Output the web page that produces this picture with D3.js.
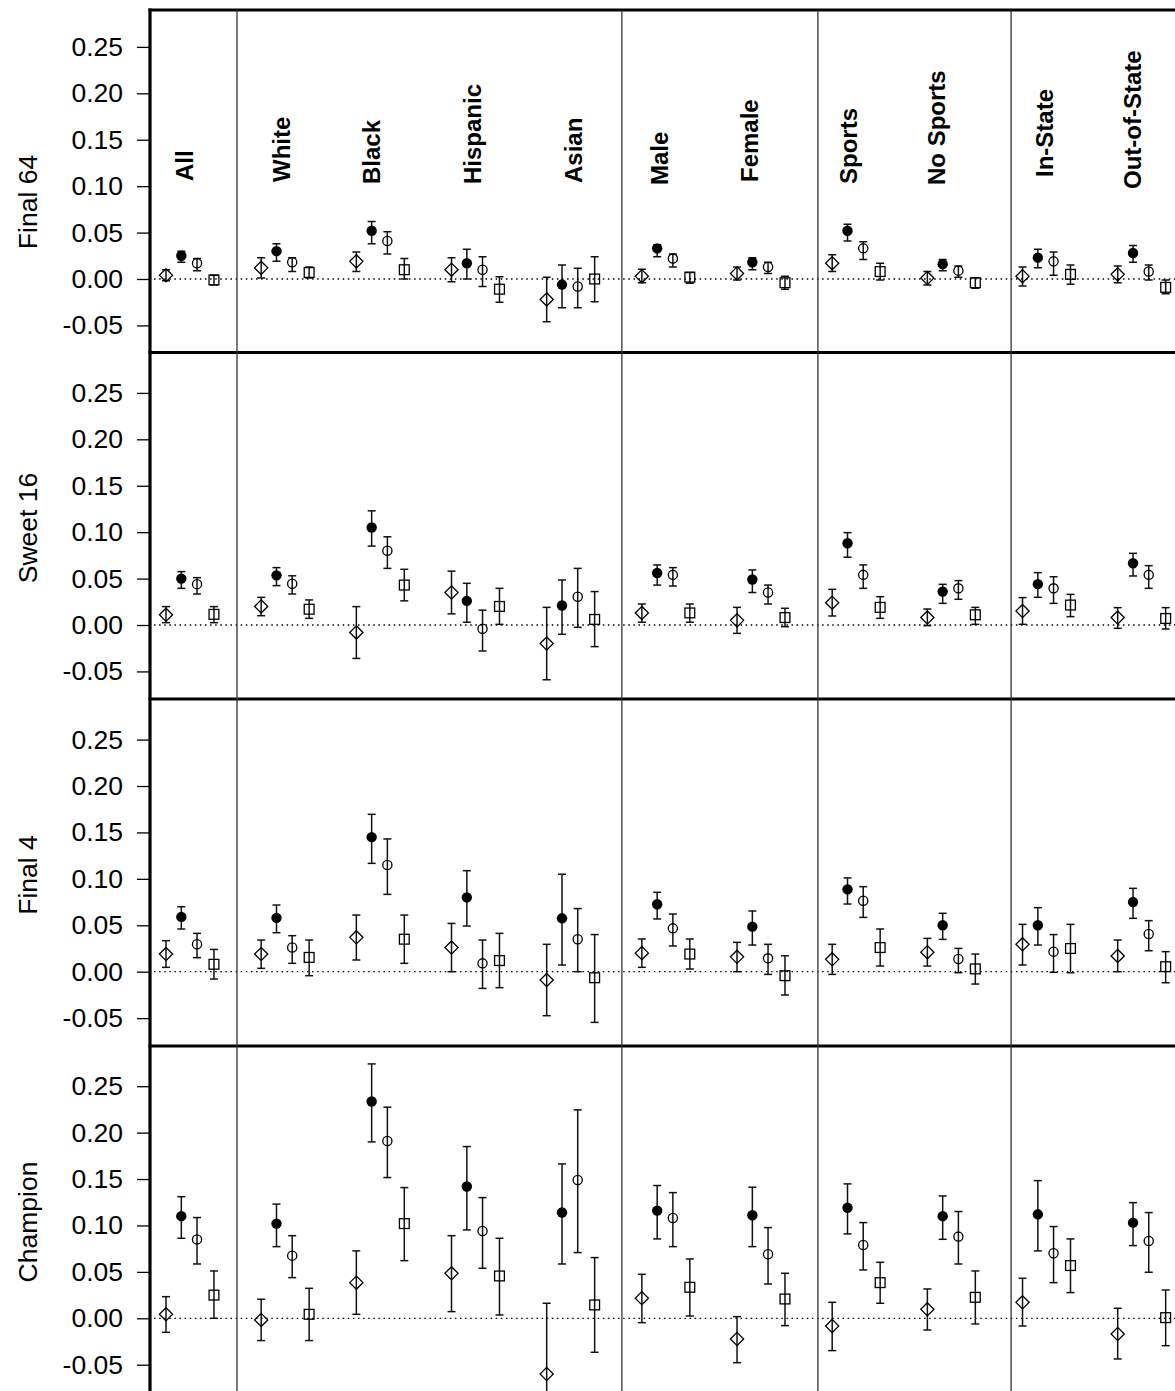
<!DOCTYPE html>
<html>
<head>
<meta charset="utf-8">
<script src="https://cdn.jsdelivr.net/npm/d3@7"></script>
<style>
  body { margin: 0; background: #fff; }
  svg { display: block; font-family: "Liberation Sans", Arial, sans-serif; }
</style>
</head>
<body>
<svg id="chart"></svg>
<script>
// categories
const groups = ["All", "White", "Black", "Hispanic", "Asian", "Male", "Female",
  "Sports", "No Sports", "In-State", "Out-of-State"];
const panels = ["Final 64", "Sweet 16", "Final 4", "Champion"];
const symbols = ["diamond", "dot", "circle", "square"];
const yTicks = [-0.05, 0, 0.05, 0.1, 0.15, 0.2, 0.25];

// values per group: [diamond, filled circle, open circle, square]
const final64Est = [
  [0.004, 0.025, 0.017, -0.001], [0.012, 0.030, 0.018, 0.007], [0.019, 0.052, 0.041, 0.010],
  [0.010, 0.017, 0.010, -0.011], [-0.022, -0.006, -0.008, 0.000], [0.003, 0.033, 0.022, 0.002],
  [0.006, 0.018, 0.013, -0.004], [0.017, 0.052, 0.033, 0.008], [0.001, 0.016, 0.009, -0.004],
  [0.003, 0.023, 0.019, 0.005], [0.005, 0.028, 0.008, -0.009]
];
const final64Lo = [
  [-0.002, 0.018, 0.009, -0.0065], [0.001, 0.019, 0.008, 0.001], [0.008, 0.038, 0.027, 0.000],
  [-0.003, 0.000, -0.008, -0.025], [-0.046, -0.031, -0.031, -0.0245], [-0.004, 0.024, 0.013, -0.0046],
  [-0.001, 0.010, 0.006, -0.011], [0.008, 0.041, 0.021, -0.001], [-0.0065, 0.009, 0.002, -0.010],
  [-0.0075, 0.012, 0.004, -0.0057], [-0.004, 0.018, -0.001, -0.016]
];
const final64Hi = [
  [0.010, 0.030, 0.022, 0.004], [0.023, 0.038, 0.023, 0.013], [0.029, 0.062, 0.051, 0.022],
  [0.023, 0.032, 0.024, 0.0025], [0.002, 0.015, 0.0115, 0.024], [0.0105, 0.037, 0.027, 0.007],
  [0.013, 0.023, 0.018, 0.003], [0.026, 0.059, 0.040, 0.017], [0.008, 0.021, 0.014, 0.0014],
  [0.013, 0.032, 0.029, 0.015], [0.014, 0.036, 0.015, -0.001]
];

const sweet16Est = [
  [0.011, 0.050, 0.044, 0.0115], [0.020, 0.0535, 0.0445, 0.017], [-0.008, 0.105, 0.080, 0.043],
  [0.035, 0.026, -0.004, 0.020], [-0.020, 0.021, 0.0305, 0.006], [0.013, 0.056, 0.054, 0.013],
  [0.005, 0.049, 0.035, 0.008], [0.024, 0.088, 0.054, 0.019], [0.008, 0.036, 0.0395, 0.011],
  [0.015, 0.044, 0.0395, 0.0215], [0.008, 0.0665, 0.054, 0.007]
];
const sweet16Lo = [
  [0.0025, 0.0395, 0.0334, 0.0025], [0.010, 0.0424, 0.0334, 0.0072], [-0.036, 0.085, 0.061, 0.026],
  [0.012, 0.003, -0.028, 0.0007], [-0.059, -0.010, -0.0025, -0.0233], [0.003, 0.043, 0.042, 0.003],
  [-0.009, 0.035, 0.0226, -0.0018], [0.0097, 0.073, 0.0395, 0.0072], [-0.0007, 0.0233, 0.0277, 0.0007],
  [0.0007, 0.0298, 0.0233, 0.009], [-0.0036, 0.0528, 0.0395, -0.0043]
];
const sweet16Hi = [
  [0.0198, 0.0575, 0.051, 0.0198], [0.0298, 0.0618, 0.053, 0.027], [0.0198, 0.123, 0.095, 0.060],
  [0.058, 0.0449, 0.016, 0.0395], [0.019, 0.0485, 0.061, 0.036], [0.0226, 0.0647, 0.0618, 0.0226],
  [0.019, 0.0593, 0.043, 0.018], [0.0384, 0.0995, 0.0647, 0.0305], [0.0172, 0.0438, 0.0478, 0.019],
  [0.0295, 0.0564, 0.052, 0.033], [0.0187, 0.0772, 0.0639, 0.0187]
];

const final4Est = [
  [0.019, 0.059, 0.0295, 0.008], [0.019, 0.058, 0.026, 0.0154], [0.037, 0.145, 0.115, 0.035],
  [0.026, 0.080, 0.009, 0.012], [-0.009, 0.0575, 0.035, -0.0065], [0.020, 0.0726, 0.0467, 0.019],
  [0.016, 0.0485, 0.0144, -0.0043], [0.0133, 0.0887, 0.0765, 0.026], [0.021, 0.050, 0.0136, 0.003],
  [0.0295, 0.050, 0.0216, 0.025], [0.017, 0.075, 0.0406, 0.0054]
];
const final4Lo = [
  [0.0047, 0.046, 0.0151, -0.0079], [0.0036, 0.042, 0.009, -0.0043], [0.0126, 0.1167, 0.0833, 0.009],
  [0.000, 0.0492, -0.018, -0.0172], [-0.0474, 0.0072, 0.000, -0.0546], [0.0047, 0.0568, 0.0277, 0.0029],
  [0.000, 0.0287, -0.0029, -0.0251], [-0.0029, 0.0729, 0.0585, 0.0061], [0.0061, 0.0348, -0.0011, -0.0133],
  [0.0072, 0.0287, -0.0007, -0.0011], [0.000, 0.0575, 0.0226, -0.0119]
];
const final4Hi = [
  [0.0334, 0.070, 0.0413, 0.024], [0.0341, 0.0718, 0.0388, 0.0341], [0.061, 0.1695, 0.143, 0.061],
  [0.052, 0.1088, 0.0341, 0.0413], [0.0295, 0.105, 0.068, 0.040], [0.0352, 0.0855, 0.0621, 0.0352],
  [0.0316, 0.0654, 0.0295, 0.0172], [0.0295, 0.101, 0.0916, 0.046], [0.0359, 0.0629, 0.0251, 0.019],
  [0.051, 0.069, 0.040, 0.051], [0.0341, 0.0898, 0.055, 0.0216]
];

const championEst = [
  [0.0043, 0.110, 0.085, 0.025], [-0.0018, 0.102, 0.0675, 0.0043], [0.0384, 0.2335, 0.191, 0.102],
  [0.0485, 0.142, 0.094, 0.0456], [-0.060, 0.114, 0.149, 0.0144], [0.0216, 0.116, 0.108, 0.0334],
  [-0.0223, 0.111, 0.069, 0.0208], [-0.0083, 0.119, 0.079, 0.0384], [0.0097, 0.110, 0.088, 0.0226],
  [0.0172, 0.112, 0.070, 0.0568], [-0.0169, 0.103, 0.0833, 0.0007]
];
const championLo = [
  [-0.0151, 0.0862, 0.0585, 0.000], [-0.024, 0.0772, 0.0438, -0.024], [0.0043, 0.190, 0.1516, 0.0621],
  [0.0072, 0.0952, 0.0539, 0.0036], [-0.137, 0.0585, 0.0708, -0.0366], [-0.0047, 0.0855, 0.0772, 0.0025],
  [-0.0478, 0.0772, 0.037, -0.0079], [-0.0348, 0.0909, 0.0521, 0.0162], [-0.0126, 0.0851, 0.0585, -0.0061],
  [-0.0083, 0.0726, 0.0384, 0.0277], [-0.0438, 0.0783, 0.0496, -0.0295]
];
const championHi = [
  [0.0233, 0.131, 0.1085, 0.051], [0.0205, 0.123, 0.089, 0.0323], [0.0726, 0.274, 0.2274, 0.1408],
  [0.089, 0.185, 0.130, 0.0862], [0.0162, 0.1663, 0.2245, 0.0654], [0.0474, 0.143, 0.1354, 0.0639],
  [0.0018, 0.1412, 0.0977, 0.0485], [0.0172, 0.1448, 0.1031, 0.0603], [0.0316, 0.1318, 0.115, 0.051],
  [0.0431, 0.1483, 0.0988, 0.0855], [0.0108, 0.1246, 0.1139, 0.0305]
];

const estimates = [final64Est, sweet16Est, final4Est, championEst];
const lowers = [final64Lo, sweet16Lo, final4Lo, championLo];
const uppers = [final64Hi, sweet16Hi, final4Hi, championHi];

// layout
const width = 1175, height = 1391;
const axisX = 150;
const panelTop = [10, 352.5, 699, 1046];
const zeroY = [279, 625, 971.7, 1318.3];
const unitPx = 928.4;
const titleY = [202, 528, 875, 1222];
const seriesOffset = [0, 0.161, 0.326, 0.504];   // in group units
const dividers = [0.746, 4.79, 6.85, 8.88];      // in group units
const labelNudge = [27, 29, 24, 29, 35, 26, 21, 25, 18, 30, 23];
const labelY = [181, 182, 184, 184, 183, 185, 182, 184, 185, 177, 189];

const svg = d3.select("#chart").attr("width", width).attr("height", height);

const x = d3.scaleLinear().domain([0, 10]).range([166, 1117.7]);

panels.forEach((name, p) => {
  const top = panelTop[p];
  const bottom = p < panels.length - 1 ? panelTop[p + 1] : height;
  const y = d3.scaleLinear()
    .domain([0, 0.25])
    .range([zeroY[p], zeroY[p] - 0.25 * unitPx]);

  // clip to panel
  svg.append("clipPath").attr("id", `clip${p}`)
    .append("rect")
    .attr("x", axisX).attr("y", top)
    .attr("width", width - axisX).attr("height", bottom - top);

  // axis
  const axis = svg.append("g")
    .attr("transform", `translate(${axisX},0)`)
    .call(d3.axisLeft(y).tickValues(yTicks)
      .tickFormat((d) => d.toFixed(2))
      .tickSize(13).tickPadding(14));
  axis.select(".domain").remove();
  axis.selectAll(".tick line").attr("stroke", "#000").attr("stroke-width", 1.3);
  axis.selectAll(".tick text")
    .attr("fill", "#000")
    .style("font-size", "26.5px")
    .style("font-family", '"Liberation Sans", Arial, sans-serif');

  // panel title
  svg.append("text")
    .attr("transform", `translate(37,${titleY[p]}) rotate(-90)`)
    .attr("text-anchor", "middle")
    .style("font-size", "26.5px")
    .text(name);

  const g = svg.append("g").attr("clip-path", `url(#clip${p})`);

  // zero reference
  g.append("line")
    .attr("x1", 154).attr("x2", width)
    .attr("y1", y(0)).attr("y2", y(0))
    .attr("stroke", "#000")
    .attr("stroke-width", 1.3)
    .attr("stroke-dasharray", "1.5,3.6");

  // points with error bars
  const rows = [];
  groups.forEach((grp, i) => {
    symbols.forEach((sym, k) => {
      rows.push({
        i, sym,
        cx: x(i + seriesOffset[k]),
        v: estimates[p][i][k],
        lo: lowers[p][i][k],
        hi: uppers[p][i][k],
      });
    });
  });

  const cap = 4;
  rows.forEach((d) => {
    const bar = g.append("g")
      .attr("stroke", "#111")
      .attr("stroke-width", 1.5)
      .attr("fill", "none");
    bar.append("line")
      .attr("x1", d.cx).attr("x2", d.cx)
      .attr("y1", y(d.lo)).attr("y2", y(d.hi));
    bar.append("line")
      .attr("x1", d.cx - cap).attr("x2", d.cx + cap)
      .attr("y1", y(d.lo)).attr("y2", y(d.lo));
    bar.append("line")
      .attr("x1", d.cx - cap).attr("x2", d.cx + cap)
      .attr("y1", y(d.hi)).attr("y2", y(d.hi));

    const cy = y(d.v);
    if (d.sym === "diamond") {
      const r = 6.6;
      g.append("path")
        .attr("d", `M${d.cx},${cy - r}L${d.cx + r},${cy}L${d.cx},${cy + r}L${d.cx - r},${cy}Z`)
        .attr("fill", "none").attr("stroke", "#000").attr("stroke-width", 1.3);
    } else if (d.sym === "dot") {
      g.append("circle")
        .attr("cx", d.cx).attr("cy", cy).attr("r", 5.2)
        .attr("fill", "#000");
    } else if (d.sym === "circle") {
      g.append("circle")
        .attr("cx", d.cx).attr("cy", cy).attr("r", 4.6)
        .attr("fill", "none").attr("stroke", "#000").attr("stroke-width", 1.3);
    } else {
      const h = 4.9;
      g.append("rect")
        .attr("x", d.cx - h).attr("y", cy - h)
        .attr("width", 2 * h).attr("height", 2 * h)
        .attr("fill", "none").attr("stroke", "#000").attr("stroke-width", 1.3);
    }
  });

  // panel top border
  svg.append("line")
    .attr("x1", axisX - 1.5).attr("x2", width)
    .attr("y1", top).attr("y2", top)
    .attr("stroke", "#000").attr("stroke-width", 3.2);
});

// group dividers
dividers.forEach((d) => {
  svg.append("line")
    .attr("x1", x(d)).attr("x2", x(d))
    .attr("y1", panelTop[0]).attr("y2", height)
    .attr("stroke", "#333").attr("stroke-width", 1.3);
});

// left axis line
svg.append("line")
  .attr("x1", axisX).attr("x2", axisX)
  .attr("y1", panelTop[0] - 1.5).attr("y2", height)
  .attr("stroke", "#000").attr("stroke-width", 3.2);

// group labels
groups.forEach((grp, i) => {
  svg.append("text")
    .attr("transform", `translate(${x(i) + labelNudge[i]},${labelY[i]}) rotate(-90)`)
    .attr("text-anchor", "start")
    .style("font-size", "24px")
    .style("font-weight", "bold")
    .text(grp);
});
</script>
</body>
</html>
